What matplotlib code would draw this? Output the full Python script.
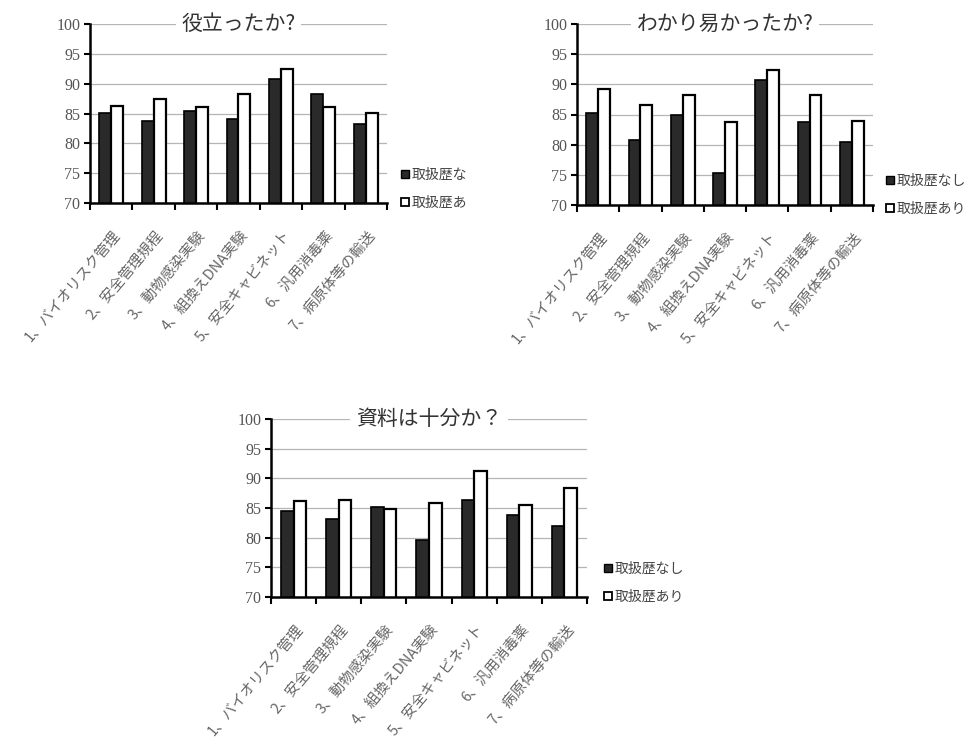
import matplotlib
matplotlib.use("Agg")
import matplotlib.pyplot as plt
import matplotlib.transforms as mtransforms
from matplotlib.lines import Line2D
import numpy as np

JP = ["Noto Sans CJK JP", "DejaVu Sans"]
plt.rcParams["font.family"] = JP

categories = ["1、バイオリスク管理", "2、安全管理規程", "3、動物感染実験",
              "4、組換えDNA実験", "5、安全キャビネット", "6、汎用消毒薬",
              "7、病原体等の輸送"]

titles = ["役立ったか?", "わかり易かったか?", "資料は十分か？"]

# 取扱歴なし / 取扱歴あり
useful_none = [85.1, 83.8, 85.5, 84.1, 90.8, 88.3, 83.3]
useful_some = [86.2, 87.5, 86.1, 88.2, 92.5, 86.1, 85.1]

clear_none = [85.2, 80.7, 85.0, 75.3, 90.7, 83.8, 80.5]
clear_some = [89.2, 86.5, 88.2, 83.8, 92.4, 88.3, 83.9]

enough_none = [84.5, 83.2, 85.2, 79.6, 86.4, 83.9, 81.9]
enough_some = [86.2, 86.4, 84.9, 85.9, 91.3, 85.5, 88.3]

legend_labels = [["取扱歴な", "取扱歴あ"],
                 ["取扱歴なし", "取扱歴あり"],
                 ["取扱歴なし", "取扱歴あり"]]

yticks = [70, 75, 80, 85, 90, 95, 100]

W, H = 978, 741
fig = plt.figure(figsize=(W / 100, H / 100), dpi=100)

# (left, top, right, bottom) in pixels, legend marker (x, y)
panels = [
    ((90, 24, 387, 203), (406, 175)),
    ((577, 24, 873, 205), (891, 181)),
    ((271, 419, 587, 597), (609, 569)),
]
series = [(useful_none, useful_some), (clear_none, clear_some),
          (enough_none, enough_some)]

dark = "#2a2a2a"
x = np.arange(len(categories))
w = 0.28

for i, ((l, t, r, b), (lx, ly)) in enumerate(panels):
    ax = fig.add_axes([l / W, 1 - b / H, (r - l) / W, (b - t) / H])
    none_vals, some_vals = series[i]
    ax.bar(x - w / 2, none_vals, w, color=dark, edgecolor="black",
           linewidth=1.2, zorder=3)
    ax.bar(x + w / 2, some_vals, w, color="white", edgecolor="black",
           linewidth=1.6, zorder=3)

    ax.set_ylim(70, 100)
    ax.set_xlim(-0.5, len(categories) - 0.5)
    ax.set_yticks(yticks)
    ax.set_yticklabels([str(v) for v in yticks], family="Liberation Serif",
                       fontsize=11.5, color="#555555")
    ax.yaxis.grid(True, color="#b5b5b5", linewidth=0.9, zorder=0)
    ax.set_axisbelow(True)
    for s in ["top", "right"]:
        ax.spines[s].set_visible(False)
    for s in ["left", "bottom"]:
        ax.spines[s].set_linewidth(1.8)
        ax.spines[s].set_zorder(4)
    ax.tick_params(axis="y", length=4, width=1.5, pad=3)

    ax.set_xticks(x)
    ax.set_xticks(np.arange(-0.5, len(categories)), minor=True)
    ax.tick_params(axis="x", which="major", length=0, pad=0)
    ax.tick_params(axis="x", which="minor", length=5, width=1.5)
    ax.set_xticklabels(categories, rotation=50, ha="right", va="center",
                       rotation_mode="anchor", fontsize=10.5, color="#666666")
    shift = mtransforms.ScaledTranslation(7 / 100, -30 / 100,
                                          fig.dpi_scale_trans)
    for lab in ax.get_xticklabels():
        lab.set_transform(lab.get_transform() + shift)

    ax.text(0.5, 1.0, titles[i], transform=ax.transAxes, ha="center",
            va="center", fontsize=15, color="#333333", zorder=5,
            bbox=dict(facecolor="white", edgecolor="none", pad=4))

    handles = [
        Line2D([], [], marker="s", linestyle="none", markersize=6,
               markerfacecolor=dark, markeredgecolor="black"),
        Line2D([], [], marker="s", linestyle="none", markersize=6,
               markerfacecolor="white", markeredgecolor="black",
               markeredgewidth=1.3),
    ]
    ax.legend(handles, legend_labels[i], loc="center left",
              bbox_to_anchor=((lx - 6) / W, 1 - (ly + 14) / H),
              bbox_transform=fig.transFigure, frameon=False, fontsize=10,
              handlelength=0.7, handletextpad=0.15, labelspacing=1.0,
              borderpad=0, borderaxespad=0, labelcolor="#444444")

fig.savefig("out.png", dpi=100, facecolor="white")
